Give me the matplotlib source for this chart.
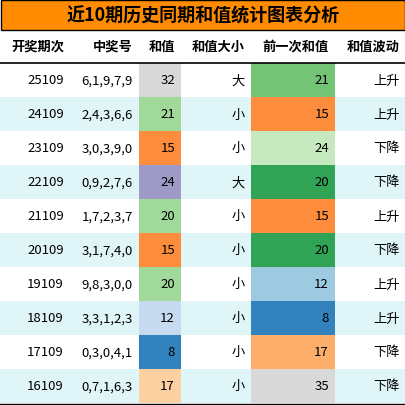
import matplotlib
matplotlib.use("Agg")
import matplotlib.pyplot as plt
from matplotlib.patches import Rectangle

plt.rcParams['font.family'] = ['Noto Sans CJK SC', 'DejaVu Sans']

title = "近10期历史同期和值统计图表分析"
headers = ["开奖期次", "中奖号", "和值", "和值大小", "前一次和值", "和值波动"]
periods = ["25109", "24109", "23109", "22109", "21109", "20109", "19109", "18109", "17109", "16109"]
numbers = ["6,1,9,7,9", "2,4,3,6,6", "3,0,3,9,0", "0,9,2,7,6", "1,7,2,3,7", "3,1,7,4,0", "9,8,3,0,0", "3,3,1,2,3", "0,3,0,4,1", "0,7,1,6,3"]
sums = [32, 21, 15, 24, 20, 15, 20, 12, 8, 17]
sizes = ["大", "小", "小", "大", "小", "小", "小", "小", "小", "小"]
prev = [21, 15, 24, 20, 15, 20, 12, 8, 17, 35]
trend = ["上升", "上升", "下降", "下降", "上升", "下降", "上升", "上升", "下降", "下降"]
sum_colors = ["#d9d9d9", "#a1d99b", "#fd8d3c", "#9e9ac8", "#a1d99b", "#fd8d3c", "#a1d99b", "#c6dbef", "#3182bd", "#fdd0a2"]
prev_colors = ["#74c476", "#fd8d3c", "#c7e9c0", "#31a354", "#fd8d3c", "#31a354", "#9ecae1", "#3182bd", "#fdae6b", "#d9d9d9"]

W, H = 406, 406
fig = plt.figure(figsize=(W/100, H/100), dpi=100)
ax = fig.add_axes([0, 0, 1, 1])
ax.set_xlim(0, W); ax.set_ylim(H, 0); ax.axis('off')

cols = [0, 70, 139, 181, 251, 335, 406]
title_h = 30
head_top, head_bot = 30, 64
row_h = (H - 2 - head_bot) / len(periods)

ax.add_patch(Rectangle((0.5, 0.5), W-1, title_h, facecolor="#ff8c00", edgecolor="black", lw=1))
ax.text(W/2, title_h/2 + 1, title, ha='center', va='center', fontsize=13, fontweight='bold')

for i, h in enumerate(headers):
    ax.text(cols[i+1]-6, (head_top+head_bot)/2, h, ha='right', va='center', fontsize=9.5, fontweight='bold')
ax.plot([0, W], [head_bot, head_bot], color='black', lw=1.2)

for r in range(len(periods)):
    y0 = head_bot + r*row_h
    bg = "white" if r % 2 == 0 else "#e0f5f7"
    ax.add_patch(Rectangle((0, y0), W, row_h, facecolor=bg, edgecolor='none', zorder=0))
    ax.add_patch(Rectangle((cols[2], y0), cols[3]-cols[2], row_h, facecolor=sum_colors[r], edgecolor='none', zorder=1))
    ax.add_patch(Rectangle((cols[4], y0), cols[5]-cols[4], row_h, facecolor=prev_colors[r], edgecolor='none', zorder=1))
    vals = [periods[r], numbers[r], str(sums[r]), sizes[r], str(prev[r]), trend[r]]
    for i, v in enumerate(vals):
        ax.text(cols[i+1]-6, y0 + row_h/2, v, ha='right', va='center', fontsize=9.5, zorder=2)
ax.plot([0, W], [H-1.5, H-1.5], color='black', lw=1)

fig.savefig("out.png", dpi=100)
